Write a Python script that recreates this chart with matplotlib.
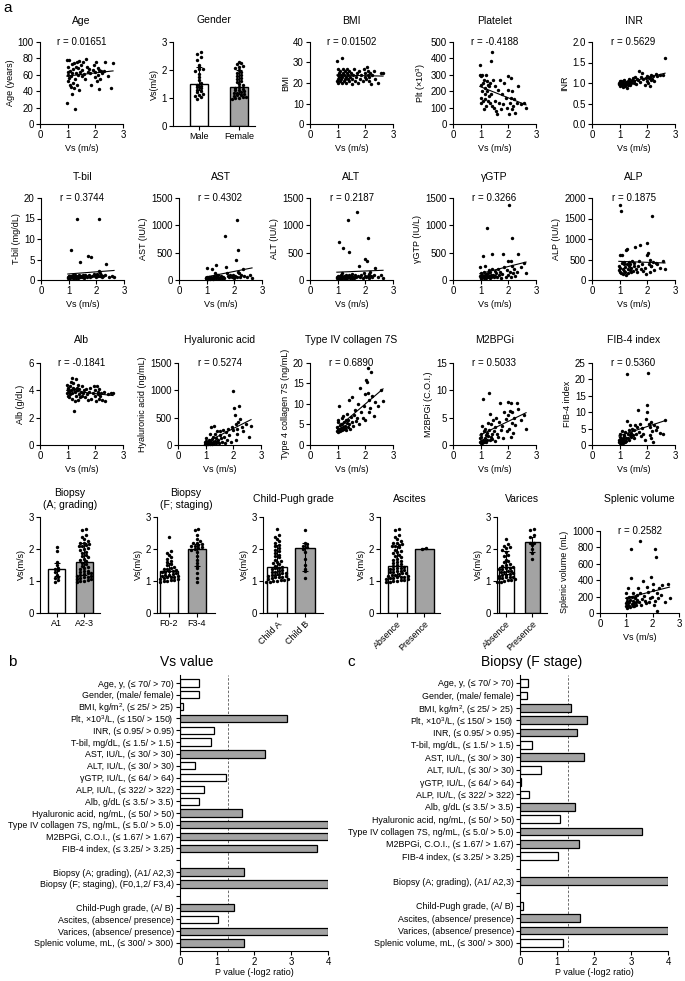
import numpy as np
import matplotlib.pyplot as plt

plt.rcParams["font.family"] = ["Liberation Sans", "DejaVu Sans"]
plt.rcParams["mathtext.fontset"] = "custom"
plt.rcParams["mathtext.rm"] = "Liberation Sans"
plt.rcParams["mathtext.default"] = "regular"
plt.rcParams["axes.linewidth"] = 0.8

W, H = 685, 981
GRAY = "#a3a3a3"

# ---------------- panel a: per-patient values ----------------
vs = np.array([
    0.97, 0.98, 1.00, 1.01, 1.02, 1.03, 1.05, 1.06, 1.08, 1.10,
    1.11, 1.12, 1.14, 1.15, 1.17, 1.18, 1.20, 1.22, 1.24, 1.25,
    1.27, 1.29, 1.30, 1.32, 1.34, 1.36, 1.38, 1.40, 1.42, 1.45,
    1.48, 1.50, 1.53, 1.56, 1.60, 1.63, 1.67, 1.70, 1.74, 1.78,
    1.82, 1.86, 1.90, 1.94, 1.97, 2.00, 2.03, 2.05, 2.08, 2.10,
    2.12, 2.15, 2.18, 2.20, 2.24, 2.30, 2.36, 2.45, 2.58, 2.64])

age = [78, 26, 60, 52, 70, 63, 56, 78, 48, 65,
       58, 45, 36, 73, 62, 50, 67, 74, 44, 55,
       18, 70, 62, 47, 76, 60, 68, 42, 77, 64,
       72, 58, 66, 76, 61, 55, 79, 70, 63, 67,
       62, 48, 66, 72, 57, 64, 75, 52, 68, 60,
       43, 66, 55, 65, 62, 65, 76, 58, 44, 74]
bmi = [30.5, 21, 24, 20, 27, 22, 25, 23, 21, 26,
       22, 24, 32, 20, 23, 27, 25, 21, 24, 22,
       26, 23, 20, 25, 27, 22, 24, 21, 26, 23,
       25, 19.5, 22, 24, 27, 21, 23, 25, 20, 26,
       22, 24, 21, 27, 23, 25, 22, 28, 24, 26,
       21, 23, 25, 19.5, 24, 26, 22, 20, 25, 25]
platelet = [360, 300, 160, 240, 290, 130, 200, 300, 140, 250,
            90, 270, 180, 220, 150, 300, 110, 260, 200, 140,
            240, 170, 230, 130, 250, 180, 385, 440, 110, 270,
            100, 140, 230, 80, 60, 210, 130, 270, 90, 180,
            120, 250, 160, 100, 290, 210, 60, 130, 280, 160,
            90, 200, 110, 150, 70, 130, 230, 120, 130, 100]
inr = [1.00, 0.98, 1.05, 0.95, 1.02, 0.92, 1.00, 1.06, 0.96, 1.00,
       0.90, 1.04, 0.98, 0.95, 1.08, 0.93, 1.00, 0.97, 1.03, 0.88,
       1.00, 1.05, 0.96, 1.10, 0.99, 1.02, 0.94, 1.06, 1.00, 1.08,
       1.12, 1.00, 1.05, 1.15, 0.98, 1.10, 1.08, 1.30, 1.02, 1.15,
       1.25, 1.10, 0.95, 1.12, 1.05, 1.18, 1.00, 1.12, 0.92, 1.15,
       1.20, 1.08, 1.10, 1.17, 1.05, 1.22, 1.18, 1.20, 1.20, 1.62]
tbil = [0.6, 0.8, 0.5, 0.9, 0.7, 1.0, 0.6, 0.8, 0.9, 7.3,
        0.9, 0.7, 0.6, 1.1, 0.8, 0.5, 0.9, 0.7, 1.2, 0.6,
        1.0, 0.8, 15.0, 0.9, 0.6, 0.7, 1.2, 4.5, 0.8, 1.0,
        0.7, 1.3, 0.9, 0.6, 1.1, 0.9, 0.8, 5.9, 1.3, 0.7,
        5.6, 0.9, 1.5, 1.0, 0.8, 1.2, 1.4, 0.9, 15.0, 2.3,
        0.9, 1.8, 1.2, 0.7, 1.0, 1.3, 3.8, 0.8, 0.9, 0.8]
ast = [30, 40, 25, 220, 35, 50, 20, 30, 45, 60,
       30, 25, 40, 35, 55, 30, 210, 45, 25, 70,
       35, 50, 120, 280, 40, 60, 90, 30, 100, 45,
       40, 80, 50, 30, 60, 45, 800, 240, 120, 70,
       50, 90, 60, 100, 40, 60, 80, 370, 1090, 60,
       150, 540, 120, 50, 90, 200, 80, 60, 100, 40]
alt = [40, 60, 30, 80, 50, 25, 690, 45, 70, 35,
       90, 40, 55, 30, 120, 594, 60, 35, 80, 50,
       45, 100, 30, 65, 40, 1106, 55, 90, 520, 35,
       70, 45, 110, 60, 40, 85, 50, 1237, 75, 250,
       60, 95, 40, 130, 70, 390, 55, 345, 760, 80,
       110, 45, 140, 70, 60, 100, 220, 50, 90, 35]
ggtp = [80, 230, 40, 120, 60, 30, 100, 50, 440, 70,
        150, 40, 90, 250, 60, 110, 35, 80, 950, 130,
        50, 180, 70, 40, 140, 90, 60, 200, 470, 100,
        50, 160, 80, 120, 60, 200, 90, 150, 40, 110,
        470, 240, 60, 180, 340, 90, 1375, 150, 340, 60,
        770, 250, 120, 200, 80, 150, 470, 230, 310, 120]
alp = [350, 250, 600, 1830, 200, 300, 1680, 180, 600, 420,
       280, 150, 380, 220, 450, 310, 200, 120, 720, 760,
       400, 260, 180, 330, 440, 250, 380, 200, 300, 460,
       220, 350, 420, 800, 280, 190, 350, 470, 850, 260,
       380, 220, 300, 150, 900, 620, 650, 400, 200, 480,
       330, 350, 1560, 450, 250, 420, 380, 300, 460, 260]
alb = [4.4, 3.8, 4.1, 3.6, 4.0, 4.2, 3.9, 3.5, 4.3, 3.7,
       4.6, 4.0, 4.9, 3.8, 3.4, 4.2, 4.5, 2.5, 4.1, 3.2,
       3.9, 4.8, 3.6, 4.2, 4.0, 3.3, 4.4, 3.7, 4.1, 3.5,
       3.9, 4.3, 3.6, 3.8, 4.0, 3.5, 4.1, 3.7, 3.3, 3.9,
       4.2, 3.4, 3.8, 4.3, 3.6, 4.0, 3.2, 4.3, 3.7, 3.9,
       3.4, 4.1, 3.6, 3.8, 3.3, 3.9, 3.2, 3.7, 3.8, 3.8]
hyaluronic = [20, 50, 10, 80, 30, 120, 40, 15, 60, 25,
              90, 35, 200, 20, 70, 330, 45, 110, 15, 60,
              150, 350, 30, 80, 200, 40, 120, 60, 250, 90,
              30, 180, 250, 120, 60, 280, 150, 40, 240, 100,
              300, 180, 60, 330, 280, 990, 680, 540, 100, 380,
              200, 300, 420, 710, 480, 330, 250, 380, 150, 340]
collagen7s = [4.5, 3.5, 5.5, 3.2, 6.0, 4.0, 9.6, 3.8, 4.8, 3.3,
              5.2, 4.2, 6.5, 3.6, 5.0, 4.4, 7.0, 3.9, 5.6, 4.1,
              4.7, 6.2, 3.7, 5.3, 7.5, 4.5, 6.0, 11.0, 5.2, 4.0,
              6.8, 5.5, 11.7, 4.6, 7.2, 8.5, 5.8, 6.5, 10.0, 5.0,
              14.0, 8.0, 6.5, 9.5, 12.5, 6.0, 15.9, 15.3, 18.8, 12.7,
              8.0, 10.9, 9.0, 17.8, 12.0, 7.0, 10.5, 9.5, 13.3, 10.8]
m2bpgi = [0.5, 1.2, 0.3, 2.0, 0.8, 1.5, 0.4, 3.5, 1.0, 8.5,
          0.6, 2.5, 1.3, 0.7, 3.0, 1.8, 0.5, 2.2, 1.0, 4.0,
          1.6, 9.6, 2.8, 0.9, 5.6, 1.4, 3.8, 2.0, 1.1, 4.5,
          2.6, 0.8, 3.3, 5.0, 2.0, 1.5, 4.2, 7.7, 2.8, 3.5,
          1.2, 6.0, 4.8, 2.5, 5.5, 7.85, 3.0, 6.2, 1.5, 7.7,
          4.0, 6.0, 2.2, 5.0, 3.6, 7.7, 6.5, 4.5, 5.4, 2.9]
fib4 = [0.8, 1.5, 0.5, 2.5, 1.0, 3.5, 0.6, 1.8, 4.2, 1.2,
        2.0, 0.7, 3.0, 1.5, 2.8, 0.9, 4.0, 2.2, 1.2, 21.5,
        7.3, 3.5, 2.0, 4.5, 1.5, 3.2, 6.0, 2.5, 3.8, 5.0,
        3.0, 4.5, 2.2, 6.2, 3.5, 5.5, 10.8, 4.0, 6.5, 2.8,
        5.2, 3.5, 1.5, 8.0, 12.2, 10.0, 21.8, 6.5, 3.0, 5.5,
        2.0, 7.0, 4.2, 1.0, 6.0, 4.5, 5.5, 3.8, 3.4, 7.5]
splenic = [120, 80, 250, 150, 60, 180, 100, 300, 140, 90,
           200, 130, 70, 160, 777, 425, 110, 190, 250, 80,
           150, 120, 90, 200, 180, 140, 100, 220, 160, 300,
           130, 880, 240, 100, 170, 393, 210, 150, 120, 320,
           260, 140, 180, 445, 200, 280, 350, 100, 777, 150,
           680, 250, 30, 180, 300, 220, 340, 140, 350, 180]

# group codes per patient ('-' = not available)
gender = ("FMFFMFFMFF" "MFFMFFMFFM" "FMFFMFMFMF"
          "MFMFFMFFMF" "FMFFMFMMFM" "FFMFFFMMMM")
grading = ("2122122212" "2212221222" "1222121212"
           "2122122222" "2221222122" "2222222222")
staging = ("HLLLLLLLLH" "LLLLLLLLLH" "LLLLLLLHLL"
           "HLLHLLHLLH" "LLHLHHHHHH" "HHHHHHLHHH")
child_pugh = ("AAAAAAAAAB" "AAAAAAAAAA" "AABAABAAAA"
              "ABAAAAABAA" "AABAABABAB" "ABABAAAABA")
ascites = ("NNNNNNNNNN" "NNNNNNNNNN" "NNNNNNNNNN"
           "NNNNNNNNNN" "NNNNNPPNNN" "NNNNNNNNNN")
varices = ("NN-NNNN-NN" "NNN-NNNN-N" "NNNN-NNNNN"
           "NNN-NNNP-N" "NPN-NPNN-N" "PNPP-NPPPP")

# bar = median, error = interquartile range
gender_med, gender_lo, gender_hi = [1.49, 1.40], [1.28, 1.15], [2.12, 2.00]
grading_med, grading_lo, grading_hi = [1.38, 1.60], [1.16, 1.19], [1.55, 2.18]
staging_med, staging_lo, staging_hi = [1.32, 2.00], [1.15, 1.48], [1.55, 2.17]
child_med, child_lo, child_hi = [1.45, 2.03], [1.19, 1.30], [2.12, 2.19]
ascites_med, ascites_lo, ascites_hi = [1.48, 2.01], [1.16, 1.99], [2.10, 2.03]
varices_med, varices_lo, varices_hi = [1.45, 2.21], [1.22, 1.92], [1.95, 2.38]

# ---------------- panels b / c ----------------
nan = np.nan
p_cut = 1.3
b_labels = ["Age, y, (≤ 70/ > 70)", "Gender, (male/ female)",
            "BMI, kg/m$^2$, (≤ 25/ > 25)", "Plt, ×10$^3$/L, (≤ 150/ > 150)",
            "INR, (≤ 0.95/ > 0.95)", "T-bil, mg/dL, (≤ 1.5/ > 1.5)",
            "AST, IU/L, (≤ 30/ > 30)", "ALT, IU/L, (≤ 30/ > 30)",
            "γGTP, IU/L, (≤ 64/ > 64)", "ALP, IU/L, (≤ 322/ > 322)",
            "Alb, g/dL (≤ 3.5/ > 3.5)", "Hyaluronic acid, ng/mL, (≤ 50/ > 50)",
            "Type IV collagen 7S, ng/mL, (≤ 5.0/ > 5.0)",
            "M2BPGi, C.O.I., (≤ 1.67/ > 1.67)", "FIB-4 index, (≤ 3.25/ > 3.25)",
            "", "Biopsy (A; grading), (A1/ A2,3)",
            "Biopsy (F; staging), (F0,1,2/ F3,4)", "",
            "Child-Pugh grade, (A/ B)", "Ascites, (absence/ presence)",
            "Varices, (absence/ presence)", "Splenic volume, mL, (≤ 300/ > 300)"]
b_values = [0.50, 0.51, 0.09, 2.90, 0.92, 0.83, 2.31, 0.40, 1.23, 0.64,
            0.52, 1.68, 4.0, 4.0, 3.70, nan, 1.74, 4.0, nan,
            1.47, 1.02, 4.0, 1.74]
c_labels = b_labels[:17] + b_labels[18:]
c_values = [0.22, 0.20, 1.38, 1.82, 1.53, 0.33, 1.74, 0.58, 0.02, 0.24,
            1.49, 1.08, 3.29, 1.60, 1.02, nan, 4.0, nan,
            0.07, 1.62, 4.0, 1.15]

fig = plt.figure(figsize=(W / 100, H / 100), dpi=100)


def px_axes(left, top, width, height):
    return fig.add_axes([left / W, 1 - (top + height) / H, width / W, height / H])


def style(ax):
    for side in ("top", "right"):
        ax.spines[side].set_visible(False)
    ax.tick_params(direction="out", length=3, width=0.8, labelsize=7, pad=1.5)


def title_at(cx, cy, text, size=7.5):
    fig.text(cx / W, 1 - cy / H, text, ha="center", va="center", fontsize=size)


def swarm(values, step, binw=0.1):
    values = np.asarray(values)
    offs = np.zeros(len(values))
    bins = np.round(values / binw).astype(int)
    for b in np.unique(bins):
        idx = np.where(bins == b)[0]
        offs[idx] = (np.arange(len(idx)) - (len(idx) - 1) / 2) * step
    return offs


def scatter_panel(left, top, y, title, ylabel, r_text, yticks, fmt="{:g}",
                  height=82, width=83, title_gap=21):
    ax = px_axes(left, top, width, height)
    y = np.asarray(y, dtype=float)
    ax.scatter(vs, y, s=6, c="black", linewidths=0, clip_on=False, zorder=3)
    slope, icpt = np.polyfit(vs, y, 1)
    xx = np.array([vs.min(), vs.max()])
    ax.plot(xx, slope * xx + icpt, color="black", lw=0.8)
    ax.set_xlim(0, 3)
    ax.set_ylim(yticks[0], yticks[-1])
    ax.set_xticks([0, 1, 2, 3])
    ax.set_yticks(yticks)
    ax.set_yticklabels([fmt.format(t) for t in yticks])
    ax.set_xlabel("Vs (m/s)", fontsize=6.5, labelpad=3)
    ax.set_ylabel(ylabel, fontsize=6.5, labelpad=2)
    ax.text(0.5, 1.0, r_text, transform=ax.transAxes, ha="center",
            va="center", fontsize=7)
    style(ax)
    title_at(left + width / 2, top - title_gap, title)
    return ax


def strip_panel(left, top, width, height, c0, sep, bw, codes, keys,
                med, lo, hi, ticklabels, title, title_y, rot=False):
    ax = px_axes(left, top, width, height)
    codes = np.array(list(codes))
    pos = np.arange(2)
    med, lo, hi = np.array(med), np.array(lo), np.array(hi)
    ax.bar(pos, med, width=bw / sep, color=["white", GRAY],
           edgecolor="black", lw=1.0, zorder=1)
    for i, k in enumerate(keys):
        vals = vs[codes == k]
        ax.scatter(i + swarm(vals, 3.6 / sep), vals, s=6, c="black",
                   linewidths=0, zorder=2, clip_on=False)
    ax.errorbar(pos, med, yerr=[med - lo, hi - med], fmt="none",
                ecolor="black", elinewidth=0.8, capsize=2, capthick=0.8,
                zorder=3)
    ax.set_xlim(-c0 / sep, (width - c0) / sep)
    ax.set_ylim(0, 3)
    ax.set_yticks([0, 1, 2, 3])
    ax.set_xticks(pos)
    if rot:
        ax.set_xticklabels(ticklabels, rotation=45, ha="right",
                           rotation_mode="anchor", fontsize=6.5)
    else:
        ax.set_xticklabels(ticklabels, fontsize=6.5)
    ax.set_ylabel("Vs(m/s)", fontsize=6.5, labelpad=2)
    style(ax)
    ax.tick_params(axis="x", labelsize=6.5)
    title_at(left + width / 2, title_y, title)
    return ax


def pvalue_panel(left, labels, values, title, title_x):
    n = len(labels)
    pitch = 260 / (n - 1)
    pad = 8 / pitch
    ax = px_axes(left, 675, 148, 276)
    pos = np.arange(n)
    vals = np.array(values, dtype=float)
    ok = ~np.isnan(vals)
    colors = [GRAY if v > p_cut else "white" for v in vals[ok]]
    ax.barh(pos[ok], vals[ok], height=0.62, color=colors,
            edgecolor="black", lw=0.9, zorder=2)
    ax.axvline(p_cut, color="#555555", ls=(0, (3, 2)), lw=0.6, zorder=1)
    ax.set_ylim(n - 1 + pad, -pad)
    ax.set_xlim(0, 4)
    ax.set_xticks([0, 1, 2, 3, 4])
    ax.set_yticks(pos)
    ax.set_yticklabels(labels)
    ax.set_xlabel("P value (-log2 ratio)", fontsize=6.5, labelpad=1)
    style(ax)
    ax.tick_params(axis="y", labelsize=6.4)
    ax.tick_params(axis="x", pad=1)
    title_at(title_x, 662, title, size=10)
    return ax


# row 1
scatter_panel(40, 42, age, "Age", "Age (years)", "r = 0.01651",
              [0, 20, 40, 60, 80, 100])
strip_panel(173, 42, 82, 84, 26, 40, 18, gender, ["M", "F"],
            gender_med, gender_lo, gender_hi, ["Male", "Female"],
            "Gender", 20)
scatter_panel(310, 42, bmi, "BMI", "BMI", "r = 0.01502", [0, 10, 20, 30, 40])
scatter_panel(453, 42, platelet, "Platelet", "Plt (×10$^3$)", "r = -0.4188",
              [0, 100, 200, 300, 400, 500])
scatter_panel(592, 42, inr, "INR", "INR", "r = 0.5629",
              [0, 0.5, 1.0, 1.5, 2.0], fmt="{:.1f}")

# row 2
scatter_panel(41, 198, tbil, "T-bil", "T-bil (mg/dL)", "r = 0.3744",
              [0, 5, 10, 15, 20])
scatter_panel(179, 198, ast, "AST", "AST (IU/L)", "r = 0.4302",
              [0, 500, 1000, 1500])
scatter_panel(310, 198, alt, "ALT", "ALT (IU/L)", "r = 0.2187",
              [0, 500, 1000, 1500])
scatter_panel(453, 198, ggtp, "γGTP", "γGTP (IU/L)", "r = 0.3266",
              [0, 500, 1000, 1500])
scatter_panel(592, 198, alp, "ALP", "ALP (IU/L)", "r = 0.1875",
              [0, 500, 1000, 1500, 2000])

# row 3
scatter_panel(40, 363, alb, "Alb", "Alb (g/dL)", "r = -0.1841", [0, 2, 4, 6],
              title_gap=23)
scatter_panel(178, 363, hyaluronic, "Hyaluronic acid",
              "Hyaluronic acid (ng/mL)", "r = 0.5274", [0, 500, 1000, 1500],
              title_gap=23)
scatter_panel(310, 363, collagen7s, "Type IV collagen 7S",
              "Type 4 collagen 7S (ng/mL)", "r = 0.6890", [0, 5, 10, 15, 20],
              title_gap=23)
scatter_panel(453, 363, m2bpgi, "M2BPGi", "M2BPGi (C.O.I.)", "r = 0.5033",
              [0, 5, 10, 15], title_gap=23)
scatter_panel(592, 363, fib4, "FIB-4 index", "FIB-4 index", "r = 0.5360",
              [0, 5, 10, 15, 20, 25], title_gap=23)

# row 4
strip_panel(40, 517, 60, 96, 16.5, 27.5, 17, grading, ["1", "2"],
            grading_med, grading_lo, grading_hi, ["A1", "A2-3"],
            "Biopsy\n(A; grading)", 499)
strip_panel(157, 517, 58, 96, 12, 27.5, 18, staging, ["L", "H"],
            staging_med, staging_lo, staging_hi, ["F0-2", "F3-4"],
            "Biopsy\n(F; staging)", 499)
strip_panel(263, 517, 60, 96, 14, 28, 20, child_pugh, ["A", "B"],
            child_med, child_lo, child_hi, ["Child A", "Child B"],
            "Child-Pugh grade", 499, rot=True)
strip_panel(380, 517, 60, 96, 17, 27, 19, ascites, ["N", "P"],
            ascites_med, ascites_lo, ascites_hi, ["Absence", "Presence"],
            "Ascites", 499, rot=True)
strip_panel(497, 517, 50, 96, 9, 26, 15, varices, ["N", "P"],
            varices_med, varices_lo, varices_hi, ["Absence", "Presence"],
            "Varices", 499, rot=True)
scatter_panel(600, 531, splenic, "Splenic volume", "Splenic volume (mL)",
              "r = 0.2582", [0, 200, 400, 600, 800, 1000], width=79,
              title_gap=32)

# panels b and c
pvalue_panel(180, b_labels, b_values, "Vs value", 187)
pvalue_panel(520, c_labels, c_values, "Biopsy (F stage)", 532)

fig.text(3 / W, 1 - 1 / H, "a", fontsize=11, va="top", ha="left")
fig.text(8 / W, 1 - 662 / H, "b", fontsize=11, va="center", ha="left")
fig.text(347 / W, 1 - 662 / H, "c", fontsize=11, va="center", ha="left")

fig.savefig("out.png", dpi=100)
